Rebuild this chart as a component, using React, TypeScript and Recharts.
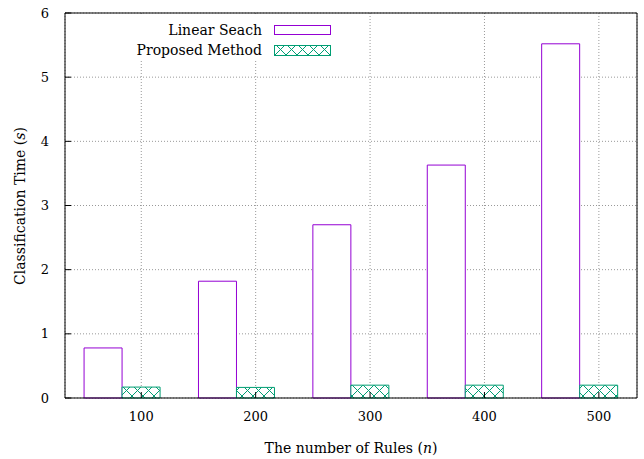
import { BarChart, Bar, XAxis, YAxis, CartesianGrid, ReferenceArea, Customized } from 'recharts';

const ruleCounts = [100, 200, 300, 400, 500];
const linearSearch = [0.78, 1.82, 2.7, 3.63, 5.52];
const proposedMethod = [0.17, 0.165, 0.2, 0.2, 0.2];
const xTicks = [100, 200, 300, 400, 500];
const yTicks = [0, 1, 2, 3, 4, 5, 6];

const PURPLE = '#9400d3';
const GREEN = '#009e73';
const FONT = '"DejaVu Serif", serif';
const X_DOMAIN = [100 - 200 / 3, 500 + 100 / 3];

const data = ruleCounts.map((n, i) => ({
  n: String(n),
  nv: n,
  linear: linearSearch[i],
  proposed: proposedMethod[i],
}));

const Overlay = () => (
  <g fontFamily={FONT} fontSize={14} fill="#000">
    <rect x={118} y={14} width={222} height={46} fill="#fff" />
    <text x={262} y={30} textAnchor="end" dominantBaseline="central">Linear Seach</text>
    <rect x={274.5} y={25.5} width={56} height={9} fill="#fff" stroke={PURPLE} />
    <text x={262} y={50} textAnchor="end" dominantBaseline="central">Proposed Method</text>
    <rect x={274.5} y={45.5} width={56} height={10} fill="url(#xhatch)" stroke={GREEN} />
    <text x={351} y={448} textAnchor="middle" dominantBaseline="central">
      The number of Rules (<tspan fontStyle="italic">n</tspan>)
    </text>
    <text
      x={20}
      y={206}
      textAnchor="middle"
      dominantBaseline="central"
      transform="rotate(-90 20 206)"
    >
      Classification Time (<tspan fontStyle="italic">s</tspan>)
    </text>
  </g>
);

const App = () => {
  const tickStyle = { fill: '#000', fontFamily: FONT, fontSize: 13 };
  return (
    <div style={{ position: 'absolute', left: 0, top: 0, background: '#fff' }}>
      <BarChart
        width={644}
        height={459}
        data={data}
        margin={{ top: 12, right: 6, bottom: 0, left: 0 }}
        barCategoryGap="16.67%"
        barGap={0}
      >
        <defs>
          <pattern id="xhatch" patternUnits="userSpaceOnUse" width={11} height={11}>
            <rect width={11} height={11} fill="#fff" />
            <path d="M0,0 L11,11 M0,11 L11,0" stroke={GREEN} strokeWidth={1} />
          </pattern>
        </defs>
        <CartesianGrid
          xAxisId="num"
          yAxisId="left"
          stroke="#999"
          strokeDasharray="1 2"
        />
        <XAxis xAxisId="cat" dataKey="n" hide height={0} />
        <XAxis
          xAxisId="num"
          dataKey="nv"
          type="number"
          domain={X_DOMAIN}
          ticks={xTicks}
          allowDataOverflow
          height={61}
          tickSize={-6}
          tickMargin={20}
          tick={tickStyle}
          stroke="#000"
        />
        <XAxis
          xAxisId="top"
          dataKey="nv"
          orientation="top"
          type="number"
          domain={X_DOMAIN}
          ticks={xTicks}
          allowDataOverflow
          height={1}
          tickSize={-6}
          tick={false}
          stroke="#000"
        />
        <YAxis
          yAxisId="left"
          domain={[0, 6]}
          ticks={yTicks}
          width={65}
          tickSize={-6}
          tickMargin={22}
          tick={tickStyle}
          stroke="#000"
        />
        <YAxis
          yAxisId="right"
          orientation="right"
          domain={[0, 6]}
          ticks={yTicks}
          width={1}
          tickSize={-6}
          tick={false}
          stroke="#000"
        />
        <Bar
          xAxisId="cat"
          yAxisId="left"
          dataKey="linear"
          fill="#fff"
          stroke={PURPLE}
          strokeWidth={1}
          isAnimationActive={false}
        />
        <Bar
          xAxisId="cat"
          yAxisId="left"
          dataKey="proposed"
          fill="url(#xhatch)"
          stroke={GREEN}
          strokeWidth={1}
          isAnimationActive={false}
        />
        <ReferenceArea
          xAxisId="num"
          yAxisId="left"
          fill="none"
          fillOpacity={0}
          stroke="#000"
          strokeOpacity={1}
          strokeWidth={1}
        />
        <Customized component={Overlay} />
      </BarChart>
    </div>
  );
};

export default App;
